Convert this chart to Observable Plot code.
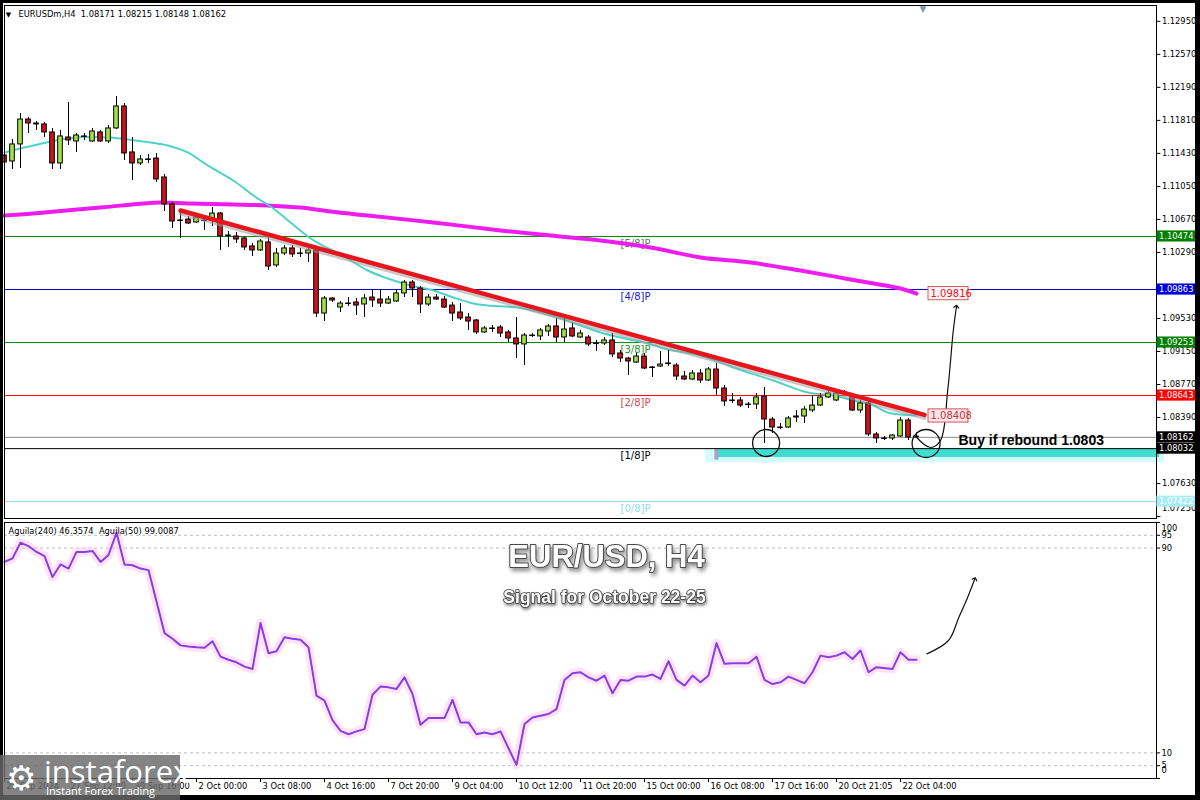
<!DOCTYPE html>
<html><head><meta charset="utf-8">
<script src="https://cdn.jsdelivr.net/npm/d3@7"></script>
<script src="https://cdn.jsdelivr.net/npm/@observablehq/plot@0.6"></script>
<style>
html,body{margin:0;padding:0;background:#fff;}
#wrap{position:relative;width:1200px;height:800px;background:#fff;overflow:hidden;font-family:"DejaVu Sans",sans-serif;}
#wrap svg{position:absolute;left:0;}
#border{position:absolute;left:0;top:0;width:1200px;height:800px;box-sizing:border-box;border-style:solid;border-color:#000;border-width:3px 5px 5px 3px;pointer-events:none;}
#logo{position:absolute;left:0;top:755px;width:180px;height:45px;background:rgba(105,105,105,0.82);color:#fff;font-family:"Open Sans","DejaVu Sans",sans-serif;}
#logo .g{position:absolute;left:6px;top:2px;font-size:34px;line-height:40px;color:#fff;}
#logo .n{position:absolute;left:44px;top:-4px;font-size:31px;line-height:40px;letter-spacing:0px;font-weight:400;}
#logo .s{position:absolute;left:46px;top:29px;font-size:11px;line-height:13px;}
</style></head><body><div id="wrap"><div id="border"></div></div>
<script>
// ---------- data ----------
const open = [1.11406,1.11337,1.11533,1.11820,1.11774,1.11763,1.11671,1.11314,1.11613,1.11567,
1.11625,1.11567,1.11671,1.11567,1.11717,1.11970,1.11441,1.11314,1.11360,1.11371,
1.11153,1.10842,1.10658,1.10669,1.10635,1.10658,1.10658,1.10738,1.10485,1.10474,
1.10451,1.10359,1.10313,1.10405,1.10140,1.10278,1.10336,1.10278,1.10278,1.10313,
1.09587,1.09760,1.09656,1.09702,1.09714,1.09691,1.09771,1.09748,1.09702,1.09725,
1.09818,1.09944,1.09875,1.09691,1.09771,1.09748,1.09679,1.09599,1.09541,1.09507,
1.09369,1.09415,1.09426,1.09369,1.09300,1.09231,1.09334,1.09323,1.09380,1.09438,
1.09311,1.09415,1.09311,1.09311,1.09242,1.09242,1.09277,1.09127,1.09069,1.09023,
1.09092,1.08966,1.08977,1.09012,1.08989,1.08862,1.08828,1.08897,1.08816,1.08943,
1.08724,1.08586,1.08586,1.08540,1.08540,1.08632,1.08367,1.08275,1.08275,1.08390,
1.08402,1.08471,1.08528,1.08621,1.08586,1.08667,1.08632,1.08471,1.08552,1.08195,
1.08149,1.08149,1.08172,1.08356,1.08171];
const high = [1.11487,1.11590,1.11889,1.11843,1.11797,1.11786,1.11717,1.11694,1.12016,1.11659,
1.11659,1.11717,1.11694,1.11751,1.12085,1.12004,1.11613,1.11406,1.11417,1.11429,
1.11187,1.10865,1.10773,1.10704,1.10738,1.10692,1.10807,1.10750,1.10531,1.10520,
1.10474,1.10393,1.10439,1.10462,1.10336,1.10370,1.10370,1.10336,1.10359,1.10336,
1.09783,1.09771,1.09725,1.09771,1.09760,1.09806,1.09852,1.09864,1.09783,1.09852,
1.09967,1.09967,1.09898,1.09806,1.09806,1.09783,1.09714,1.09702,1.09587,1.09518,
1.09438,1.09449,1.09449,1.09392,1.09541,1.09357,1.09357,1.09415,1.09461,1.09530,
1.09530,1.09472,1.09392,1.09334,1.09277,1.09311,1.09357,1.09162,1.09081,1.09127,
1.09127,1.08977,1.09150,1.09162,1.09012,1.08920,1.08931,1.08943,1.08966,1.09012,
1.08759,1.08667,1.08621,1.08563,1.08667,1.08736,1.08390,1.08321,1.08402,1.08471,
1.08517,1.08644,1.08667,1.08701,1.08701,1.08701,1.08667,1.08586,1.08586,1.08218,
1.08172,1.08195,1.08390,1.08379,1.08215];
const low = [1.11256,1.11245,1.11256,1.11659,1.11694,1.11613,1.11245,1.11245,1.11521,1.11441,
1.11579,1.11556,1.11556,1.11544,1.11705,1.11348,1.11118,1.11291,1.11314,1.11095,
1.10761,1.10566,1.10451,1.10612,1.10623,1.10543,1.10589,1.10313,1.10347,1.10393,
1.10313,1.10243,1.10301,1.10082,1.10117,1.10255,1.10232,1.10232,1.10174,1.09541,
1.09495,1.09714,1.09599,1.09668,1.09564,1.09541,1.09656,1.09656,1.09691,1.09714,
1.09771,1.09771,1.09587,1.09668,1.09737,1.09645,1.09495,1.09507,1.09392,1.09346,
1.09357,1.09369,1.09311,1.09254,1.09069,1.08989,1.09311,1.09277,1.09323,1.09254,
1.09254,1.09311,1.09300,1.09208,1.09150,1.09219,1.09081,1.09023,1.08874,1.09012,
1.08943,1.08851,1.08966,1.08977,1.08816,1.08816,1.08816,1.08782,1.08805,1.08644,
1.08517,1.08552,1.08505,1.08494,1.08482,1.08091,1.08206,1.08252,1.08264,1.08333,
1.08321,1.08448,1.08517,1.08609,1.08575,1.08644,1.08459,1.08437,1.08172,1.08091,
1.08126,1.08126,1.08160,1.08126,1.08148];
const close = [1.11325,1.11533,1.11820,1.11774,1.11763,1.11671,1.11314,1.11625,1.11579,1.11636,
1.11619,1.11682,1.11567,1.11717,1.11970,1.11429,1.11314,1.11360,1.11354,1.11130,
1.10842,1.10646,1.10652,1.10623,1.10692,1.10652,1.10738,1.10474,1.10479,1.10439,
1.10347,1.10313,1.10416,1.10128,1.10278,1.10336,1.10267,1.10272,1.10313,1.09587,
1.09760,1.09737,1.09702,1.09697,1.09679,1.09760,1.09737,1.09702,1.09748,1.09818,
1.09944,1.09875,1.09691,1.09771,1.09748,1.09656,1.09587,1.09530,1.09495,1.09369,
1.09415,1.09409,1.09357,1.09300,1.09231,1.09334,1.09328,1.09392,1.09438,1.09311,
1.09403,1.09323,1.09357,1.09231,1.09236,1.09277,1.09116,1.09069,1.09035,1.09092,
1.08954,1.08960,1.09000,1.09006,1.08862,1.08828,1.08897,1.08816,1.08943,1.08724,
1.08575,1.08580,1.08528,1.08534,1.08621,1.08367,1.08275,1.08269,1.08379,1.08402,
1.08482,1.08528,1.08621,1.08667,1.08667,1.08661,1.08471,1.08552,1.08195,1.08149,
1.08143,1.08183,1.08356,1.08160,1.08162];

// moving averages (bar index, price)
const maFastBar = [0,3.6,7.9,13.25,15.4,18.25,20.4,22.9,25.4,28.6,31.1,33.6,35.75,37.9,39.5,42,45.4,47.9,50.75,53.6,56.1,58.6,60.4,64.1,67,69.5,72,74.5,77,80.4,82.9,87,91.1,96.1,100.4,103.6,106.1,108.6,110.4,112,114];
const maFastVal = [1.11441,1.11521,1.11602,1.11613,1.11590,1.11556,1.11521,1.11441,1.11291,1.11118,1.10946,1.10796,1.10635,1.10474,1.10382,1.10267,1.10082,1.09990,1.09910,1.09852,1.09772,1.09703,1.09680,1.09656,1.09599,1.09530,1.09449,1.09369,1.09311,1.09242,1.09173,1.09104,1.08966,1.08816,1.08678,1.08644,1.08586,1.08529,1.08448,1.08425,1.08413];
const maSlowBar = [0,3.6,12,19.5,22.9,28.6,32.9,37,40.75,45.4,53.6,62,68.25,74.5,80.75,87,93.25,99.5,105.75,112,114];
const maSlowVal = [1.10715,1.10738,1.10807,1.10865,1.10854,1.10842,1.10830,1.10807,1.10761,1.10715,1.10635,1.10543,1.10485,1.10428,1.10347,1.10232,1.10174,1.10082,1.09979,1.09875,1.09816];

// Aguila(240) oscillator (bar index, value)
const aguilaBar = [0,1,2,3,4,5,6,7,8,9,10,11,12,13,14,15,16,17,18,20,21,22,23,24,25,26,27,28,29,30,31,32,33,34,35,36,37,38,39,40,41,42,43,44,45,46,47,48,49,50,51,52,53,55,56,57,58,59,60,61,62,64,65,66,68,69,70,71,72,73,74,75,76,77,78,79,80,81,82,83,84,85,86,87,88,89,90,91,93,94,95,96,97,98,99,100,101,102,103,104,105,106,107,108,109,111,112,113,114];
const aguilaVal = [84.6,86.0,92.1,90.8,88.5,86.9,78.7,83.6,82.0,88.5,88.5,88.9,84.6,87.3,96.0,83.6,83.3,82.0,81.4,56.8,54.6,52.0,51.6,51.3,51.1,53.6,47.6,46.4,45.4,43.7,42.8,60.7,48.9,49.7,55.2,54.6,54.2,51.3,32.4,30.4,22.8,18.6,17.3,18.4,19.3,32.7,35.9,35.6,35.0,39.5,33.0,21.0,23.6,23.6,30.7,21.9,21.9,17.3,18.0,17.3,18.4,5.3,21.3,23.8,25.2,27.1,38.5,41.1,41.5,39.5,38.2,40.2,33.3,38.5,38.2,39.8,39.8,40.6,38.9,45.8,38.5,36.3,40.2,37.6,40.2,52.9,44.8,45.0,45.0,47.6,38.5,36.9,37.6,39.8,38.5,37.2,41.5,48.0,47.4,48.0,49.3,46.7,50.0,41.5,43.5,42.8,49.3,46.4,46.36];

// Murrey math levels
const murreyLevels = [1.10474,1.09863,1.09253,1.08643,1.08032,1.07422];
const murreyNames = ["[5/8]P","[4/8]P","[3/8]P","[2/8]P","[1/8]P","[0/8]P"];
const murreyLine = ["#008000","#0000c0","#008000","#ff0000","#000000","#86dcea"];
const murreyBox = ["#008000","#0000d8","#008000","#ff0000","#000000","#a9ecf4"];
const murreyText = ["#557d55","#1c1cc8","#2a922a","#cf4a4a","#000000","#8fdcea"];

const priceTicks = [1.12950,1.12570,1.12190,1.11810,1.11430,1.11050,1.10670,1.10290,1.09530,1.09150,1.08770,1.08390,1.07630];
const priceTickBottom = [1.07250];
const lastPrice = 1.08162;

const timeTickBars = [0,8,16,24,32,40,48,56,64,72,80,88,96,104,112];
const timeTickLabels = ["26 Sep 2024","27 Sep 12:00","30 Sep 16:00","2 Oct 00:00","3 Oct 08:00","4 Oct 16:00","7 Oct 20:00","9 Oct 04:00","10 Oct 12:00","11 Oct 20:00","15 Oct 00:00","16 Oct 08:00","17 Oct 16:00","20 Oct 21:05","22 Oct 04:00"];

const levelLines = [95,90,10,5];
const levelLabels = [95,90,10,5];

// annotations
const trendBar = [22, 115];
const trendPrice = [1.10773, 1.08420];
const zoneBar = [89.1, 144.4];
const zonePrice = [1.08032, 1.07930];
const circleBar = [95.2, 115.2];
const circlePrice = [1.08097, 1.08091];
const circleR = [13.5, 14];
const arrowBar = [113.9, 115.75, 117, 117.9, 118.6, 119];
const arrowPrice = [1.08172, 1.08045, 1.08126, 1.08701, 1.09392, 1.09668];
const arrow2Bar = [115.3, 118.0, 119.3, 120.4, 121.3];
const arrow2Val = [48.7, 53.9, 63.0, 70.8, 78.0];
const calloutPrice = [1.08408, 1.09816];
const header = "EURUSDm,H4  1.08171 1.08215 1.08148 1.08162";
const aguilaLabel = "Aguila(240) 46.3574  Aguila(50) 99.0087";
const title = "EUR/USD, H4";
const subtitle = "Signal for October 22-25";

// ---------- build ----------
const FONT = "'DejaVu Sans', Verdana, sans-serif";
const candles = open.map((o, i) => ({i, o, h: high[i], l: low[i], c: close[i]}));
const murrey = murreyLevels.map((p, i) => ({p, name: murreyNames[i], line: murreyLine[i], box: murreyBox[i], txt: murreyText[i]}));
const boxes = murrey.map(m => ({p: m.p, fill: m.box, label: m.p.toFixed(5)})).concat([{p: lastPrice, fill: "#000", label: lastPrice.toFixed(5)}]);
const fastMA = maFastBar.map((b, i) => ({b, v: maFastVal[i]}));
const slowMA = maSlowBar.map((b, i) => ({b, v: maSlowVal[i]}));
const aguila = aguilaBar.map((b, i) => ({b, v: aguilaVal[i]}));
const trend = trendBar.map((b, i) => ({b, v: trendPrice[i]}));
const circles = circleBar.map((b, i) => ({b, v: circlePrice[i], r: circleR[i]}));
const arrow = arrowBar.map((b, i) => ({b, v: arrowPrice[i]}));
const arrow2 = arrow2Bar.map((b, i) => ({b, v: arrow2Val[i]}));
const BH = 0.00064; // half height of the axis label boxes (in price)

const mainPlot = Plot.plot({
  width: 1200, height: 520,
  marginTop: 5, marginBottom: 2, marginLeft: 4, marginRight: 44,
  style: {fontFamily: FONT, fontSize: "8.3px", background: "transparent", overflow: "visible"},
  x: {domain: [0, 144], axis: null},
  y: {domain: [1.07228, 1.13132], axis: null},
  color: {type: "identity"},
  r: {type: "identity"},
  marks: [
    // zone
    Plot.rect([0], {x1: zoneBar[0] - 1.5, x2: zoneBar[1] + 0.6, y1: zonePrice[1] - 0.0006, y2: zonePrice[0], fill: "#d6fbfb"}),
    Plot.rect([0], {x1: zoneBar[0], x2: zoneBar[1], y1: zonePrice[1], y2: zonePrice[0], fill: "#3fdcd0"}),
    Plot.rect([0], {x1: zoneBar[0] - 0.3, x2: zoneBar[0] + 0.2, y1: zonePrice[1] - 0.0003, y2: zonePrice[0], fill: "#a9a0c8"}),
    // murrey lines
    Plot.ruleY(murrey, {y: "p", stroke: "line", strokeWidth: 1}),
    Plot.ruleY([lastPrice], {stroke: "#8c8c8c"}),
    Plot.text(murrey, {x: 77, y: "p", text: "name", fill: "txt", textAnchor: "start", dy: 7, fontSize: 10}),
    // moving averages
    Plot.line(slowMA, {x: "b", y: "v", stroke: "#ee1cee", strokeWidth: 4, curve: "catmull-rom"}),
    Plot.line(fastMA, {x: "b", y: "v", stroke: "#4fd3c8", strokeWidth: 2, curve: "catmull-rom"}),
    // candles
    Plot.ruleX(candles, {x: "i", y1: "l", y2: "h", stroke: "#000", strokeWidth: 1}),
    Plot.rect(candles, {x1: d => d.i - 0.29, x2: d => d.i + 0.29, y1: "o", y2: "c",
      fill: d => d.c >= d.o ? "#a4e04c" : "#c8161c", stroke: "#000", strokeWidth: 1}),
    // trendline
    Plot.line(trend, {x: "b", y: "v", stroke: "#9a9a9a", strokeWidth: 4, strokeOpacity: 0.55, dy: 3}),
    Plot.line(trend, {x: "b", y: "v", stroke: "#e8141c", strokeWidth: 4.5}),
    // circles and arrow
    Plot.dot(circles, {x: "b", y: "v", r: "r", stroke: "#111", strokeWidth: 1.3, fill: "none"}),
    Plot.line(arrow, {x: "b", y: "v", stroke: "#111", strokeWidth: 1.2, curve: "catmull-rom", markerEnd: "arrow"}),
    Plot.text(["Buy if rebound 1.0803"], {x: 119.25, y: 1.08126, text: d => d, textAnchor: "start",
      fontFamily: "'Liberation Sans', Arial, sans-serif", fontWeight: "bold", fontSize: 14, fill: "#000"}),
    // callouts
    Plot.rect(calloutPrice, {x1: 115.5, x2: 120.5, y1: d => d - 0.00076, y2: d => d + 0.00076,
      fill: (d, i) => i === 0 ? "#ffe1ea" : "#fff4f8", stroke: "#d25a5a", strokeWidth: 1}),
    Plot.text(calloutPrice, {x: 115.75, y: d => d, text: d => d.toFixed(5), textAnchor: "start",
      fill: (d, i) => i === 0 ? "#b0443e" : "#e01818", fontSize: 10}),
    // header
    Plot.text([header], {x: 1.75, y: 1.13029, text: d => d, textAnchor: "start", fill: "#000"}),
    Plot.text(["\u25BC"], {x: 0.15, y: 1.13029, text: d => d, textAnchor: "start", fontSize: 7, fill: "#000"}),
    Plot.text(["\u25BC"], {x: 114.8, y: 1.13095, text: d => d, fontSize: 9, fill: "#8796a8"}),
    // frame
    Plot.frame({stroke: "#000", strokeWidth: 1}),
    // right axis
    Plot.ruleY(priceTicks.concat(priceTickBottom), {x1: 144, x2: 144.55, stroke: "#000"}),
    Plot.text(priceTicks, {x: 144.55, y: d => d, text: d => d.toFixed(5), textAnchor: "start", dx: 1, fill: "#000"}),
    Plot.text(priceTickBottom, {x: 144.55, y: d => d, text: d => d.toFixed(5), textAnchor: "start", dx: 1, dy: -8, fill: "#000"}),
    Plot.rect(boxes, {x1: 144.05, x2: 149.5, y1: d => d.p - BH, y2: d => d.p + BH, fill: "fill"}),
    Plot.text(boxes, {x: 144.2, y: "p", text: "label", textAnchor: "start", dx: 1, fill: "#fff"})
  ]
});
mainPlot.style.top = "0px";

const indPlot = Plot.plot({
  width: 1200, height: 280,
  marginTop: 2, marginBottom: 22, marginLeft: 4, marginRight: 44,
  style: {fontFamily: FONT, fontSize: "8.3px", background: "transparent", overflow: "visible"},
  x: {domain: [0, 144], axis: null},
  y: {domain: [0, 100], axis: null},
  marks: [
    Plot.ruleY(levelLines, {stroke: "#bdbdbd", strokeDasharray: "3,3"}),
    Plot.line(aguila, {x: "b", y: "v", stroke: "#ffc6f2", strokeWidth: 9, strokeOpacity: 0.5}),
    Plot.line(aguila, {x: "b", y: "v", stroke: "#8540e0", strokeWidth: 2}),
    Plot.line(arrow2, {x: "b", y: "v", stroke: "#111", strokeWidth: 1.2, curve: "catmull-rom", markerEnd: "arrow"}),
    Plot.text([aguilaLabel], {x: 0.5, y: 96.5, text: d => d, textAnchor: "start", fill: "#000"}),
    // titles (shadow added after render)
    Plot.text([title], {x: 75.25, y: 86.5, text: d => d, fontFamily: "'Liberation Sans', Arial, sans-serif",
      fontWeight: "bold", fontSize: 31, fill: "#ffffff", stroke: "#4a4a4a", strokeWidth: 2}),
    Plot.text([subtitle], {x: 75, y: 70.9, text: d => d, fontFamily: "'Liberation Sans', Arial, sans-serif",
      fontWeight: "bold", fontSize: 17.5, fill: "#ffffff", stroke: "#3a3a3a", strokeWidth: 1.6}),
    Plot.frame({stroke: "#000", strokeWidth: 1}),
    // right axis of the oscillator
    Plot.ruleY([100, 95, 90, 10, 5, 0], {x1: 144, x2: 144.5, stroke: "#000"}),
    Plot.text(levelLabels, {x: 144.5, y: d => d, text: d => String(d), textAnchor: "start", dx: 1}),
    Plot.text([100], {x: 144.5, y: d => d, text: d => String(d), textAnchor: "start", dx: 1, dy: 5.5}),
    Plot.text([0], {x: 144.5, y: d => d, text: d => String(d), textAnchor: "start", dx: 1, dy: -8.5}),
    // time axis
    Plot.ruleX(timeTickBars, {y1: 0, y2: -1.6, stroke: "#000"}),
    Plot.text(timeTickBars, {x: d => d, y: -3.2, text: (d, i) => timeTickLabels[i], textAnchor: "start", dx: 2})
  ]
});
indPlot.style.top = "520px";
d3.select(indPlot).selectAll("text")
  .filter(function() { return this.textContent === title; })
  .style("filter", "drop-shadow(2px 3px 2px rgba(0,0,0,0.45))");
d3.select(indPlot).selectAll("text")
  .filter(function() { return this.textContent === subtitle; })
  .style("filter", "drop-shadow(1.5px 2px 1.5px rgba(0,0,0,0.5))");

const wrap = document.getElementById("wrap");
wrap.insertBefore(indPlot, wrap.firstChild);
wrap.insertBefore(mainPlot, wrap.firstChild);
const logo = document.createElement("div");
logo.id = "logo";
logo.innerHTML = '<span class="g">\u2699</span><span class="n">instaforex</span><span class="s">Instant Forex Trading</span>';
wrap.appendChild(logo);
</script></body></html>
